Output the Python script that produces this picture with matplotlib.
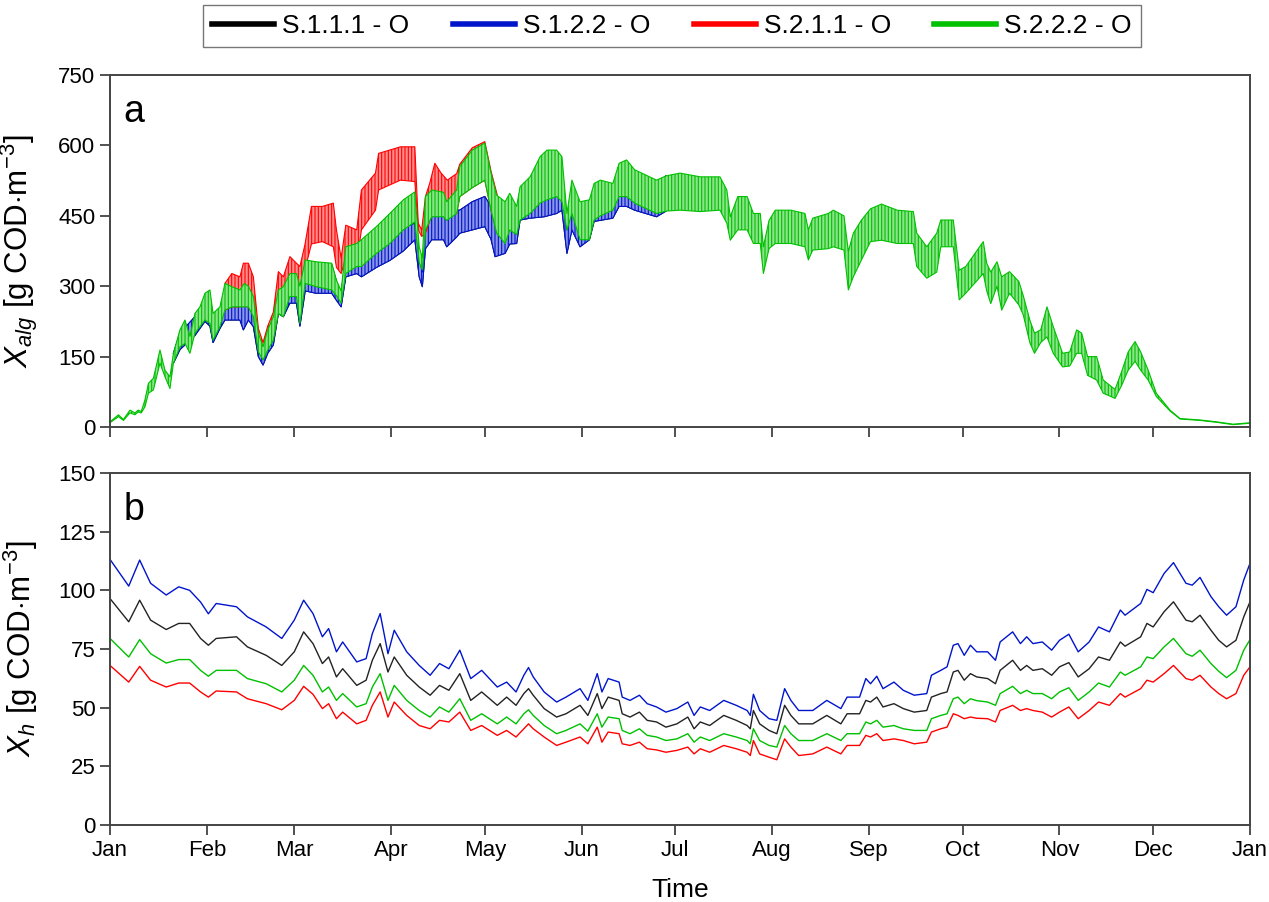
import numpy as np
import matplotlib
matplotlib.use("Agg")
import matplotlib.pyplot as plt
from matplotlib.lines import Line2D
from matplotlib.colors import to_rgb

plt.rcParams['font.family'] = ['Liberation Sans', 'DejaVu Sans']
plt.rcParams['mathtext.fontset'] = 'custom'
plt.rcParams['mathtext.rm'] = 'Liberation Sans'
plt.rcParams['mathtext.it'] = 'Liberation Sans:italic'
plt.rcParams['hatch.linewidth'] = 0.8

# ---- data (day of year) ----
series_names = ['S.1.1.1 - O', 'S.1.2.2 - O', 'S.2.1.1 - O', 'S.2.2.2 - O']
month_days = [0, 31, 59, 90, 120, 151, 181, 212, 243, 273, 304, 334, 365]
month_labels = ['Jan', 'Feb', 'Mar', 'Apr', 'May', 'Jun', 'Jul', 'Aug', 'Sep', 'Oct', 'Nov', 'Dec', 'Jan']

# panel a: daily min/max band of X_alg
green_days = [0, 2.7, 4.3, 6.4, 8, 9, 10, 11.2, 12.3, 13.9, 16, 17.6, 19.2, 20.3, 22.4, 24, 25.6, 27.2, 28.8,
              30.4, 32, 33, 35.2, 36.8, 39, 41.6, 43, 44.3, 45.9, 47.5, 49, 50.5, 52.3, 53.9, 55.5, 57.6, 59.7,
              60.8, 62.5, 66, 71, 72.5, 74, 75.5, 79, 80.5, 85.3, 89.6, 93.9, 97.6, 99, 100, 101, 103, 106.8,
              107.8, 111, 112, 116, 120, 122, 123.8, 126.5, 128, 130.2, 131.3, 134.5, 137.7, 139.9, 143, 144.7,
              146.3, 147.9, 150.5, 153.5, 155, 157, 161, 163, 165.4, 168, 175, 178, 182.5, 189, 195.3, 197.5,
              198.6, 201, 204, 206, 208.2, 209.2, 211, 213, 218, 222.5, 223.6, 225, 230, 231.6, 235, 236.4, 238,
              240.6, 243.5, 247, 252, 257.2, 258.3, 261.5, 264.7, 266, 270, 271.9, 274, 279.6, 280.7, 282, 284,
              285.5, 288, 291, 292.4, 294.5, 296, 298, 300, 302, 305, 307.3, 309.5, 311.1, 313, 315.9, 318,
              321.8, 324, 326, 328.2, 330, 332.4, 335, 339.4, 342.6, 349, 354.3, 359.6, 365]
green_hi = [11, 26, 16, 36, 30, 36, 33, 58, 93, 104, 164, 121, 107, 157, 207, 228, 193, 242, 256, 285, 292, 242,
            256, 306, 299, 292, 306, 300, 278, 200, 171, 207, 235, 292, 299, 327, 327, 300, 356, 352, 349, 313,
            290, 384, 391, 399, 427, 455, 484, 501, 384, 360, 491, 505, 500, 480, 505, 555, 590, 605, 541, 494,
            480, 498, 470, 512, 533, 576, 590, 590, 576, 455, 526, 480, 484, 519, 526, 519, 562, 569, 548, 526,
            535, 541, 533, 533, 505, 448, 491, 491, 455, 455, 384, 440, 462, 462, 455, 420, 445, 455, 462, 450,
            374, 413, 441, 465, 475, 462, 459, 413, 384, 413, 441, 441, 334, 342, 395, 349, 330, 352, 320, 331,
            310, 280, 228, 200, 207, 256, 214, 157, 160, 207, 200, 150, 150, 100, 80, 120, 160, 182, 160, 121,
            72, 36, 18, 15, 11, 6, 9]
green_lo = [9, 22, 14, 30, 26, 32, 30, 43, 72, 79, 136, 107, 82, 136, 171, 178, 157, 200, 214, 228, 221, 185,
            214, 249, 256, 256, 256, 256, 235, 160, 143, 164, 185, 242, 235, 278, 278, 221, 306, 299, 292, 280,
            264, 327, 342, 342, 370, 391, 420, 437, 350, 335, 420, 448, 448, 440, 455, 491, 510, 526, 462, 413,
            391, 420, 410, 441, 455, 477, 484, 491, 480, 420, 455, 399, 399, 441, 450, 462, 491, 491, 477, 455,
            460, 462, 459, 462, 434, 398, 420, 420, 391, 391, 327, 380, 391, 391, 384, 356, 377, 380, 384, 377,
            292, 320, 356, 395, 398, 391, 391, 342, 317, 330, 384, 384, 271, 285, 327, 290, 263, 300, 249, 285,
            260, 239, 180, 157, 180, 192, 157, 128, 130, 157, 157, 110, 100, 72, 61, 90, 121, 140, 121, 100,
            65, 34, 17, 14, 10, 5, 8]

red_days = [36.8, 39, 41.6, 42.7, 44.3, 45.9, 47.5, 49, 50.5, 52.3, 53.9, 55.5, 57.6, 59.7, 60.8, 62.4, 64.5,
            68, 71.5, 72.5, 74, 75.5, 79, 80.5, 85, 86, 93, 97.6, 98.7, 99.8, 101, 102.4, 104, 106, 108, 111,
            112, 116, 120, 122, 124]
red_hi = [306, 327, 320, 349, 349, 320, 210, 180, 215, 245, 331, 320, 363, 349, 342, 388, 470, 470, 477, 420,
          360, 430, 420, 505, 541, 583, 597, 597, 434, 420, 491, 520, 562, 541, 526, 540, 560, 595, 608, 545, 494]
red_lo = [249, 256, 256, 260, 256, 240, 165, 145, 170, 190, 245, 240, 290, 300, 256, 335, 390, 395, 384, 340,
          327, 360, 349, 420, 462, 505, 526, 523, 420, 406, 413, 440, 462, 460, 448, 455, 491, 510, 526, 462, 413]

blue_days = [20.3, 22.4, 27.2, 30.4, 32, 33, 35.2, 36.8, 39, 41.6, 42.7, 44.3, 45.9, 47.5, 49, 50.5, 52.3,
             53.9, 55.5, 57.6, 59.7, 60.8, 62.5, 66, 71, 72.5, 74, 75.5, 79, 80.5, 85.3, 89.6, 93.9, 97.6, 99,
             100, 101, 103, 106.8, 107.8, 111, 112, 116, 120, 122, 123.3, 126.5, 128, 130.2, 131.3, 134.5, 139,
             143, 144.7, 146.3, 147.9, 150.5, 153.5, 155, 161, 163, 165.4, 168, 175, 178]
blue_hi = [157, 200, 235, 270, 275, 235, 250, 280, 270, 270, 275, 270, 255, 180, 160, 200, 225, 270, 275, 290,
           300, 280, 340, 345, 345, 310, 280, 370, 370, 380, 395, 410, 425, 434, 360, 330, 440, 462, 462, 440,
           462, 462, 480, 491, 470, 440, 440, 450, 440, 470, 498, 505, 515, 519, 420, 470, 450, 470, 490, 500,
           533, 533, 520, 515, 535]
blue_lo = [136, 165, 195, 225, 215, 180, 210, 228, 228, 228, 207, 228, 214, 150, 132, 157, 175, 242, 235, 264,
           264, 215, 290, 285, 285, 270, 256, 320, 327, 320, 340, 355, 375, 399, 320, 299, 380, 399, 399, 384,
           405, 413, 420, 427, 400, 363, 370, 390, 391, 441, 445, 448, 455, 462, 370, 420, 384, 399, 438, 445,
           470, 470, 462, 448, 460]

# panel b: X_h
b_days = [0, 6, 9.5, 13, 18, 22, 25.5, 29, 31.5, 34, 40.5, 44, 50, 55, 59, 62, 65, 68, 70, 72.5, 74.5, 79, 82,
          84, 86.5, 89, 91, 95, 99, 102.5, 105.5, 108.5, 112, 115.5, 119, 124,
          127, 130, 132.5, 134, 135.5, 139, 143, 146, 150.5, 153, 156, 157.5, 159.5, 163, 164, 166.5, 169.5,
          172, 175, 178, 181.5, 185, 187, 189, 192, 196.5, 200.5, 204, 205, 206, 208, 211, 213.5, 216, 218,
          220.5, 225, 229.5, 234, 236, 240,
          242, 243.5, 245.5, 247.5, 251, 254, 257.5, 261.5, 263, 266, 268, 270, 271.5, 273.5, 275.5, 277.5,
          281, 283.5, 285, 289, 291.5, 293.5, 295.5, 298.5, 301.5, 304, 307, 310, 313.5, 316.5, 320, 323.5,
          325, 330, 332, 334, 337.5, 340.5, 344.5, 346.5, 349, 352.5, 355, 357.5, 360.5, 363, 365]
xh_black = [96.5, 86.6, 95.8, 87.3, 83.3, 85.9, 85.9, 79.5, 76.6, 79.5, 80.2, 75.9, 72.3, 68, 73.8, 82.3, 77.3,
            68.8, 71.6, 63.1, 66.6, 59.5, 61.7, 70.2, 77.3, 65.2, 71.6, 63.8, 58.8, 55.3, 59.5, 57.4, 64.5, 53.1,
            56.7, 51,
            54.5, 51, 56, 58.1, 55.3, 49.6, 46, 47.4, 51, 46.7, 56, 49.6, 54.5, 53.1, 47.4, 46, 48.1, 44.6, 43.9,
            41.7, 43.1, 46, 41, 43.9, 42.4, 46.7, 44.6, 42.4, 41, 48.8, 43.1, 40.3, 38.9, 51, 46.7, 43.1, 43.1,
            46.7, 43.1, 47.4, 47.4,
            53.1, 52.4, 54.5, 50.3, 51.7, 49.6, 48.1, 48.8, 54.5, 56, 56.7, 65.2, 65.9, 61.7, 64.5, 63.1, 62.4,
            60.2, 65.9, 70.2, 65.9, 68, 65.9, 66.6, 63.8, 67.4, 69.2, 63.1, 66.6, 71.6, 70.2, 78, 76.2, 80.2,
            85.9, 84.4, 90.9, 95.1, 87.3, 86.6, 89.4, 83, 78.7, 75.9, 78.7, 88.7, 95.1]
xh_blue = [113.2, 101.8, 112.9, 103, 98, 101.5, 100, 95, 90, 94.4, 93, 88.7, 84.4, 79.5, 87.3, 95.8, 90.1, 80.2,
           83.7, 73.8, 78, 69.5, 70.9, 81.6, 90.1, 73, 83, 73.8, 68, 63.8, 68.8, 66.6, 74.5, 62.4, 65.9, 58.8,
           60.9, 56.7, 63.8, 67.1, 63.1, 56.7, 52.4, 54.5, 58.1, 53.1, 64.5, 56.7, 62.4, 60.9, 54.5, 53.1, 55.3,
           51.7, 50.3, 48.1, 49.6, 52.4, 46.7, 50.3, 48.8, 53.1, 51, 48.8, 46.7, 55.7, 48.8, 45.3, 44.6, 58.1,
           53.1, 48.8, 48.8, 53.1, 49.6, 54.5, 54.5,
           62.4, 60.2, 63.4, 58.1, 60.9, 57.4, 55.3, 56, 63.8, 65.9, 67.4, 76.6, 77.3, 72.3, 76.6, 73.8, 73.8,
           70.2, 78, 82.3, 77.3, 80.2, 77.3, 78, 74.5, 78.7, 81.3, 73.8, 78, 84.4, 82.3, 91.6, 89.4, 94.4,
           100.4, 99, 107.2, 111.8, 103, 102.2, 105.5, 97.3, 93, 89.4, 93, 104.4, 111.5]
xh_red = [68, 60.9, 67.6, 61.7, 58.8, 60.5, 60.5, 56.7, 54.5, 57.1, 56.7, 53.8, 51.7, 49.1, 53.1, 59.1, 55.7,
          49.6, 51.7, 45.3, 48.1, 43.1, 44.6, 51, 56.7, 46, 52.4, 46.7, 42.4, 41, 44.6, 43.9, 48.1, 40.3, 42.4,
          38.2,
          40.3, 37.5, 41, 43.1, 41, 37.5, 33.9, 35.3, 37.5, 34.6, 41.7, 35.3, 39.6, 38.9, 34.6, 33.9, 35.3, 32.5,
          32, 31, 31.8, 33.2, 30.3, 32.5, 31, 33.9, 32.5, 31, 29.6, 36, 30.3, 28.9, 27.8, 36.7, 33.2, 29.6, 30.3,
          33.2, 30.3, 33.9, 33.9,
          38.2, 37.5, 38.9, 36, 36.7, 36, 34.6, 35.3, 39.6, 41, 41.7, 47.4, 46.7, 45.3, 46, 45.5, 45.3, 43.9,
          48.8, 51, 48.8, 49.6, 48.8, 48.1, 46, 48.1, 50.3, 45.3, 48.8, 52.4, 51, 56, 54.5, 58.1, 61.7, 60.9,
          64.5, 68, 62.4, 61.7, 63.8, 58.8, 56, 53.8, 56, 63.8, 67.4]
xh_green = [79.5, 71.6, 79, 73, 69, 70.5, 70.5, 65.9, 63.4, 65.9, 65.9, 62.4, 60.2, 56.7, 61.7, 68, 63.8, 56.7,
            58.8, 53.1, 56, 50.3, 51.7, 58.8, 64.5, 53.1, 59.5, 53.1, 48.8, 46, 50.3, 48.1, 53.8, 44.6, 47.4,
            43.1,
            46, 43.1, 47.4, 49.1, 46.7, 42.4, 38.9, 40.3, 43.1, 40, 47.4, 41.7, 46, 45.3, 40.3, 38.9, 41, 38.2,
            37.5, 36, 36.7, 38.9, 35.3, 37.5, 36, 38.9, 37.5, 36, 34.6, 41, 36, 33.9, 33.2, 42.4, 38.9, 36, 36,
            38.9, 36, 38.9, 38.9,
            43.9, 43.1, 44.6, 41.7, 42.4, 41, 40.3, 40.3, 45.3, 46.7, 47.4, 53.8, 54.5, 51.7, 53.8, 53, 52.4, 51,
            56, 59.1, 56, 57.4, 56, 56, 53.8, 56.7, 58.5, 53.1, 56.7, 60.5, 58.8, 65.2, 63.8, 67.4, 71.6, 70.9,
            75.9, 79.5, 73, 71.9, 74.5, 68.8, 65.5, 62.8, 65.9, 74.5, 79]

colors = ['#000000', '#0014cc', '#ff0000', '#00c000']

W, H = 1269, 902
fig = plt.figure(figsize=(W / 100, H / 100), dpi=100)
ax1 = fig.add_axes([110 / W, 1 - 427 / H, 1140 / W, 352 / H])
ax2 = fig.add_axes([110 / W, 1 - 825 / H, 1140 / W, 352 / H])


def band(ax, d, hi, lo, c, z):
    # opaque light fill so later series cover earlier ones, stripes stand in for the daily teeth
    face = np.array(to_rgb(c)) * 0.45 + 0.55
    ax.fill_between(d, lo, hi, facecolor=face, edgecolor=c, hatch='|||||', lw=0, zorder=z)
    ax.plot(d, hi, color=c, lw=0.8, zorder=z + 0.5)
    ax.plot(d, lo, color=c, lw=0.8, zorder=z + 0.5)


# black is drawn first and hides under the others in panel a
band(ax1, blue_days, blue_hi, blue_lo, colors[0], 1)
band(ax1, blue_days, blue_hi, blue_lo, colors[1], 2)
band(ax1, red_days, red_hi, red_lo, colors[2], 3)
band(ax1, green_days, green_hi, green_lo, colors[3], 4)

ax2.plot(b_days, xh_black, color='#222222', lw=1.0)
ax2.plot(b_days, xh_blue, color=colors[1], lw=1.0)
ax2.plot(b_days, xh_red, color=colors[2], lw=1.0)
ax2.plot(b_days, xh_green, color=colors[3], lw=1.0)

for ax in (ax1, ax2):
    ax.set_xlim(0, 365)
    ax.set_xticks(month_days)
    ax.tick_params(direction='out', length=7, width=1.2, labelsize=16, color='#333333')
    for s in ax.spines.values():
        s.set_color('#444444')
        s.set_linewidth(1.4)
        s.set_zorder(10)

ax1.set_xticklabels([])
ax2.set_xticklabels(month_labels)
ax1.set_ylim(0, 750)
ax1.set_yticks(np.arange(0, 751, 150))
ax2.set_ylim(0, 150)
ax2.set_yticks(np.arange(0, 151, 25))

ax1.set_ylabel(r'$X_{alg}$ [g COD$\cdot$m$^{-3}$]', fontsize=22.5)
ax2.set_ylabel(r'$X_{h}$ [g COD$\cdot$m$^{-3}$]', fontsize=22.5)
ax1.yaxis.set_label_coords(-0.061, 0.5)
ax2.yaxis.set_label_coords(-0.061, 0.5)

ax1.text(0.012, 0.895, 'a', transform=ax1.transAxes, fontsize=27, va='center')
ax2.text(0.012, 0.895, 'b', transform=ax2.transAxes, fontsize=27, va='center')

fig.text(680 / W, 1 - 890 / H, 'Time', ha='center', va='center', fontsize=19)

handles = [Line2D([], [], color=c, lw=4) for c in colors]
fig.legend(handles, series_names, loc='upper center', bbox_to_anchor=(672 / W, 1 - 5 / H), ncol=4,
           fontsize=19, frameon=True, fancybox=False, edgecolor='#555555', handlelength=2.35,
           handletextpad=0.3, columnspacing=1.65, borderpad=0.35, borderaxespad=0)

fig.savefig('out.png', dpi=100)
